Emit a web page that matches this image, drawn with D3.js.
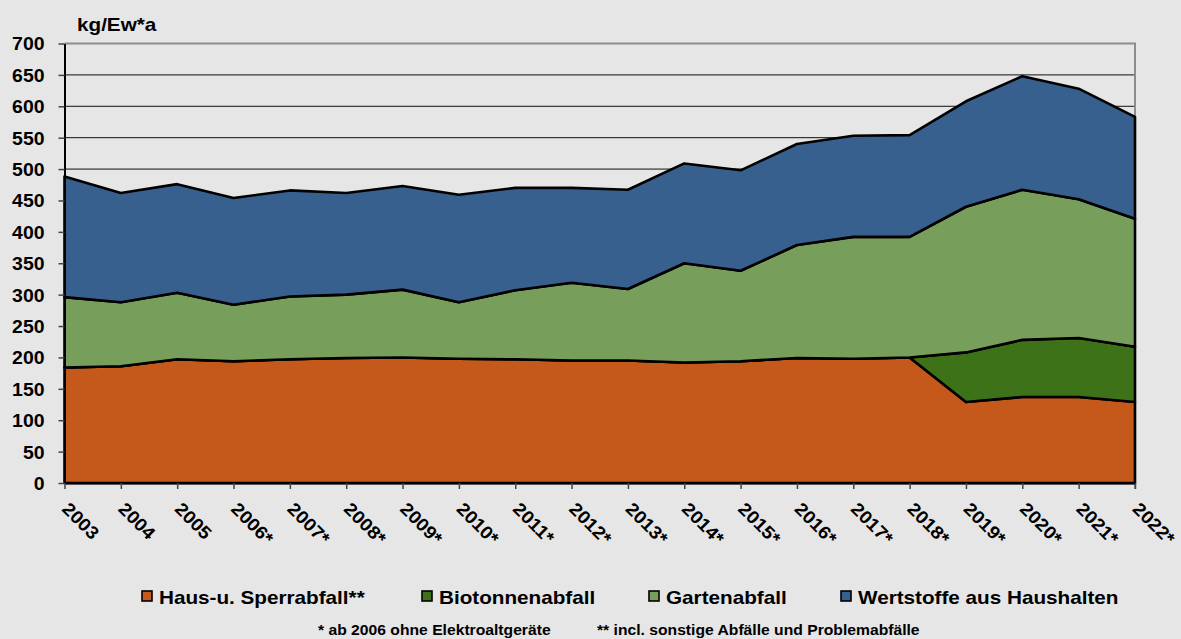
<!DOCTYPE html>
<html>
<head>
<meta charset="utf-8">
<script src="https://cdn.jsdelivr.net/npm/d3@7"></script>
<style>
  body { margin: 0; background: #e6e6e6; }
  text { font-family: "Liberation Sans", Arial, sans-serif; font-weight: bold; fill: #000; }
</style>
</head>
<body>
<div id="chart"></div>
<script>
// data (kg per inhabitant and year)
const years = ["2003", "2004", "2005", "2006*", "2007*", "2008*", "2009*", "2010*", "2011*", "2012*",
  "2013*", "2014*", "2015*", "2016*", "2017*", "2018*", "2019*", "2020*", "2021*", "2022*"];
const hausSperr = [184, 186, 197, 194, 197, 199, 200, 198, 197, 195, 195, 192, 194, 199, 198, 200, 129, 137, 137, 129];
const bioTonne = [0, 0, 0, 0, 0, 0, 0, 0, 0, 0, 0, 0, 0, 0, 0, 0, 79, 91, 94, 88];
const garten = [112, 102, 106, 90, 100, 101, 108, 90, 110, 124, 114, 158, 144, 180, 194, 192, 232, 239, 221, 204];
const wertstoffe = [192, 174, 173, 170, 169, 162, 165, 171, 163, 151, 158, 159, 160, 161, 161, 162, 168, 181, 176, 162];
const yTicks = [0, 50, 100, 150, 200, 250, 300, 350, 400, 450, 500, 550, 600, 650, 700];
const seriesNames = ["Haus-u. Sperrabfall**", "Biotonnenabfall", "Gartenabfall", "Wertstoffe aus Haushalten"];
const seriesColors = ["#c4591b", "#3d7218", "#789e5c", "#38608f"];
const footnotes = ["* ab 2006 ohne Elektroaltgeräte", "** incl. sonstige Abfälle und Problemabfälle"];
const unitLabel = "kg/Ew*a";

const width = 1181, height = 639;
const plot = { left: 64.5, right: 1135, top: 43.5, bottom: 483 };
const SX = 1.15; // text in the original is a bit stretched horizontally

const svg = d3.select("#chart").append("svg")
  .attr("width", width)
  .attr("height", height);

svg.append("rect")
  .attr("width", width)
  .attr("height", height)
  .attr("fill", "#e6e6e6");

const x = d3.scalePoint()
  .domain(years)
  .range([plot.left, plot.right]);

const y = d3.scaleLinear()
  .domain([0, 700])
  .range([plot.bottom, plot.top]);

// grid lines
svg.append("g")
  .selectAll("line")
  .data(yTicks.filter(t => t > 0 && t < 700))
  .enter()
  .append("line")
  .attr("x1", plot.left)
  .attr("x2", plot.right)
  .attr("y1", d => y(d))
  .attr("y2", d => y(d))
  .attr("stroke", "#111")
  .attr("stroke-width", 1);

// plot border (top and right, grey)
svg.append("path")
  .attr("d", `M${plot.left},${y(700)}H${plot.right}V${plot.bottom + 6}`)
  .attr("fill", "none")
  .attr("stroke", "#8c8c8c")
  .attr("stroke-width", 2);

// stacked areas
const table = years.map((yr, i) => ({
  year: yr,
  s0: hausSperr[i],
  s1: bioTonne[i],
  s2: garten[i],
  s3: wertstoffe[i]
}));

const stack = d3.stack().keys(["s0", "s1", "s2", "s3"]);
const layers = stack(table);

const area = d3.area()
  .x(d => x(d.data.year))
  .y0(d => y(d[0]))
  .y1(d => y(d[1]));

svg.append("g")
  .selectAll("path")
  .data(layers)
  .enter()
  .append("path")
  .attr("d", area)
  .attr("fill", (d, i) => seriesColors[i])
  .attr("stroke", "#000")
  .attr("stroke-width", 2.6)
  .attr("stroke-linejoin", "round");

// y axis
const yAxis = svg.append("g")
  .attr("transform", `translate(${plot.left},0)`)
  .call(d3.axisLeft(y).tickValues(yTicks).tickSize(6).tickSizeOuter(0));
yAxis.select(".domain").attr("stroke", "#000").attr("stroke-width", 2);
yAxis.selectAll(".tick line").attr("stroke", "#444").attr("stroke-width", 1.5);
yAxis.selectAll(".tick text")
  .attr("x", 0)
  .attr("dy", "0.36em")
  .attr("transform", `translate(-20,0) scale(1.08,1)`)
  .style("font-size", "18px")
  .style("font-family", "Liberation Sans, Arial, sans-serif")
  .style("font-weight", "bold")
  .attr("fill", "#000");

// x axis
const xAxis = svg.append("g")
  .attr("transform", `translate(0,${plot.bottom})`)
  .call(d3.axisBottom(x).tickSize(6).tickSizeOuter(0));
xAxis.select(".domain").attr("stroke", "#000").attr("stroke-width", 2);
xAxis.selectAll(".tick line").attr("stroke", "#444").attr("stroke-width", 1.5);
xAxis.selectAll(".tick text")
  .attr("x", 0)
  .attr("y", 0)
  .attr("dy", 0)
  .attr("text-anchor", "start")
  .attr("transform", "translate(-4,27) rotate(45) scale(1.08,1)")
  .style("font-size", "18px")
  .style("font-family", "Liberation Sans, Arial, sans-serif")
  .style("font-weight", "bold")
  .attr("fill", "#000");

// unit label
svg.append("text")
  .attr("transform", `translate(77,31) scale(${SX},1)`)
  .style("font-size", "18px")
  .text(unitLabel);

// legend
const legendX = [142, 422, 649, 841];
const legend = svg.append("g")
  .selectAll("g")
  .data(seriesNames)
  .enter()
  .append("g")
  .attr("transform", (d, i) => `translate(${legendX[i]},591)`);

legend.append("rect")
  .attr("width", 10)
  .attr("height", 10)
  .attr("fill", (d, i) => seriesColors[i])
  .attr("stroke", "#000")
  .attr("stroke-width", 1.6);

legend.append("text")
  .attr("transform", `translate(17,12.5) scale(${SX},1)`)
  .style("font-size", "18px")
  .text(d => d);

// footnotes
const footX = [318, 597];
svg.append("g")
  .selectAll("text")
  .data(footnotes)
  .enter()
  .append("text")
  .attr("transform", (d, i) => `translate(${footX[i]},635) scale(1.12,1)`)
  .style("font-size", "14px")
  .text(d => d);
</script>
</body>
</html>
